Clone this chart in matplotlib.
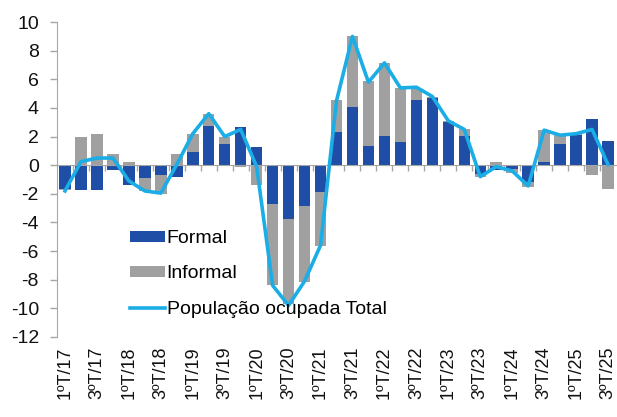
import matplotlib
matplotlib.use("Agg")
import matplotlib.pyplot as plt
import numpy as np

plt.rcParams['font.family'] = ['Liberation Sans', 'DejaVu Sans']
plt.rcParams['axes.unicode_minus'] = False

trimestres = []
for ano in range(17, 26):
    for t in range(1, 5):
        trimestres.append(f"{t}ºT/{ano}")
trimestres = trimestres[:35]

formal = [-1.65, -1.75, -1.7, -0.35, -1.4, -0.9, -0.7, -0.8, 0.95, 2.75,
          1.5, 2.65, 1.25, -2.7, -3.75, -2.85, -1.85, 2.3, 4.05, 1.35,
          2.05, 1.6, 4.55, 4.7, 3.0, 2.05, -0.6, -0.3, -0.25, -1.15,
          0.2, 1.5, 2.1, 3.2, 1.7]
informal = [-0.1, 2.0, 2.15, 0.8, 0.25, -0.9, -1.3, 0.8, 1.2, 0.85,
            0.45, -0.1, -1.35, -5.7, -5.95, -5.3, -3.8, 2.25, 4.95, 4.5,
            5.1, 3.8, 0.8, 0.1, 0.1, 0.45, -0.2, 0.25, -0.3, -0.35,
            2.25, 0.6, 0.1, -0.65, -1.65]
total = [-1.8, 0.25, 0.5, 0.5, -1.1, -1.8, -1.95, 0.05, 2.2, 3.6,
         2.0, 2.5, -0.1, -8.4, -9.8, -8.1, -5.6, 4.5, 9.0, 5.8,
         7.15, 5.4, 5.45, 4.8, 3.1, 2.5, -0.8, -0.1, -0.4, -1.45,
         2.45, 2.1, 2.2, 2.5, 0.05]

azul = '#1f4ea6'
cinza = '#a0a0a0'
ciano = '#1aade6'
eixo = '#a6a6a6'

x = np.arange(len(trimestres))
f = np.array(formal)
inf = np.array(informal)
base = np.where(np.sign(f) == np.sign(inf), f, 0)

fig = plt.figure(figsize=(6.17, 4.17), dpi=100)
ax = fig.add_axes([0.0924, 0.192, 0.906, 0.755])

b1 = ax.bar(x, formal, width=0.72, color=azul, label='Formal', zorder=2)
b2 = ax.bar(x, informal, bottom=base, width=0.72, color=cinza, label='Informal', zorder=2)
l1, = ax.plot(x, total, color=ciano, lw=2.6, label='População ocupada Total', zorder=3)

ax.set_xlim(-0.5, len(x) - 0.5)
ax.set_ylim(-12, 10)
ax.set_yticks(range(-12, 11, 2))
ax.tick_params(axis='y', labelsize=14, colors=eixo, labelcolor='#111111',
               length=5, width=1, pad=8)

# eixo x na linha do zero, com marcas entre as barras
ax.spines['bottom'].set_position(('data', 0))
ax.spines['bottom'].set_color(eixo)
ax.spines['left'].set_color(eixo)
ax.spines['top'].set_visible(False)
ax.spines['right'].set_visible(False)
ax.set_xticks(x[:-1] + 0.5)
ax.tick_params(axis='x', length=4, width=1, colors=eixo, labelbottom=False)

sec = ax.secondary_xaxis('bottom')
sec.set_xticks(x[::2])
sec.set_xticklabels(trimestres[::2], rotation=90, va='top', ha='center')
sec.tick_params(length=0, labelsize=13, labelcolor='#111111', pad=7)
sec.spines['bottom'].set_visible(False)

ax.legend([b1, b2, l1], ['Formal', 'Informal', 'População ocupada Total'],
          loc='center left', bbox_to_anchor=(0.13, 0.2), frameon=False,
          fontsize=14, handlelength=1.8, handleheight=0.5, handletextpad=0.1,
          labelspacing=0.95, borderpad=0, borderaxespad=0)

fig.savefig('out.png', dpi=100)
